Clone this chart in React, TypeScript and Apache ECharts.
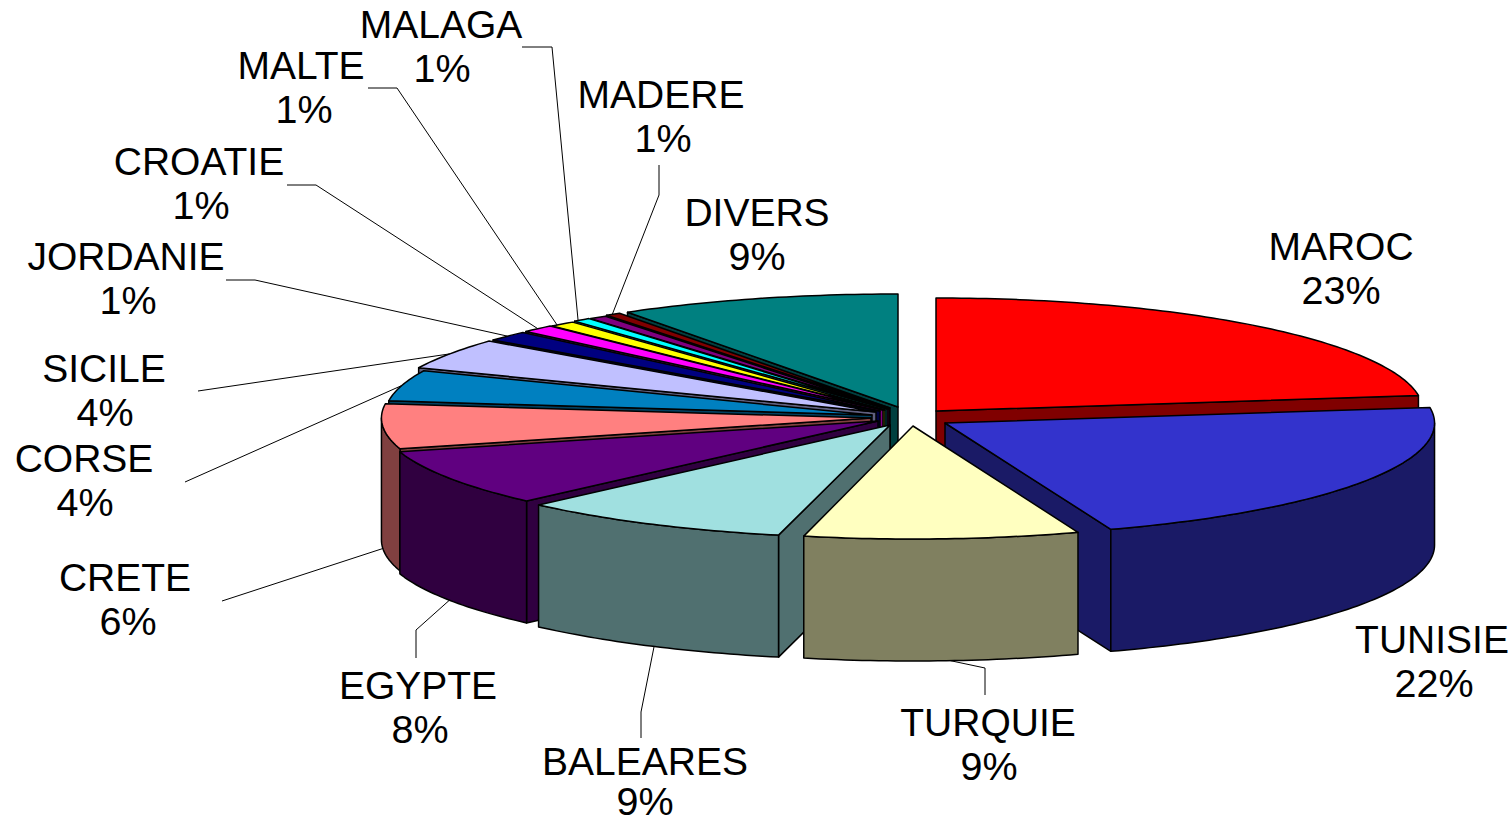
import React, { useEffect, useRef } from "react";
import * as echarts from "echarts";

// ---- data ----
const categories = ["MAROC", "TUNISIE", "TURQUIE", "BALEARES", "EGYPTE", "CRETE", "CORSE", "SICILE", "JORDANIE", "CROATIE", "MALTE", "MALAGA", "", "MADERE", "DIVERS"];
const shares = [22.8, 21.7, 9.1, 8.9, 8.1, 6.4, 4.4, 4.4, 1.44, 1.08, 0.86, 0.58, 0.58, 0.5, 9.16];

// ---- styles ----
const topColors = ["#FF0000", "#3333CC", "#FFFFC0", "#A0E0E0", "#600080", "#FF8080", "#0080C0", "#C0C0FF", "#000080", "#FF00FF", "#FFFF00", "#00FFFF", "#800080", "#800000", "#008080"];
const wallColors = ["#800000", "#1A1A66", "#808060", "#507070", "#300040", "#804040", "#004060", "#606080", "#000040", "#800080", "#808000", "#008080", "#400040", "#400000", "#004040"];
const explodeX = [38, 47, 15, -8, -20, -27, -26, -22, -18, -15, -13, -11, -9, -8, 0];
const explodeY = [4, 16, 19, 18, 14, 11, 8, 5, 4, 3, 3, 2, 2, 1, 0];
const radiusScale = [0.98, 0.985, 0.98, 1, 1, 0.985, 0.98, 1, 1, 1, 1, 1, 1, 1, 1];
const paintOrder = [14, 0, 13, 12, 11, 10, 9, 8, 7, 6, 5, 4, 3, 1, 2];

// ---- layout ----
const CX = 898, CY = 407, RX = 497, RY = 113, DEPTH = 122;
const NAME_FONT = "39px 'Liberation Sans', Arial, sans-serif";
const PCT_FONT = "39.5px 'Liberation Sans', Arial, sans-serif";
const labelX = [1341, 1432, 988, 645, 418, 125, 84, 104, 126, 199, 301, 441, 0, 661, 757];
const pctX = [1341, 1434, 989, 645, 420, 128, 85, 105, 128, 201, 304, 442, 0, 663, 757];
const labelY = [246, 639, 722, 761, 685, 577, 458, 368, 256, 161, 65, 24, 0, 94, 212];
const pctY = [290, 683, 766, 801, 729, 621, 502, 412, 300, 205, 109, 68, 0, 138, 256];
// leader lines: start and elbow of each, the far end is worked out from the slice
const leaderStart: (number[][] | null)[] = [
  null,
  null,
  [[985, 695], [985, 668]],
  [[641, 738], [641, 712]],
  [[416, 658], [416, 630]],
  [[222, 601]],
  [[185, 482]],
  [[198, 391]],
  [[226, 280], [255, 280]],
  [[287, 185], [316, 185]],
  [[368, 88], [397, 88]],
  [[522, 47], [552, 47]],
  null,
  [[659, 165], [659, 195]],
  null,
];
// where along its arc each leader meets the slice
const leaderAt = [0.5, 0.5, 0.47, 0.48, 0.5, 0.5, 0.5, 0.5, 0.5, 0.5, 0.25, 0.25, 0.5, 0.45, 0.5];

const total = shares.reduce((a, b) => a + b, 0);
const startAngles: number[] = [];
shares.reduce((acc, v, i) => {
  startAngles[i] = (acc / total) * 2 * Math.PI;
  return acc + v;
}, 0);
const endAngle = (i: number) => startAngles[i] + (shares[i] / total) * 2 * Math.PI;

const pt = (i: number, a: number, drop = 0): number[] => [
  CX + explodeX[i] + RX * radiusScale[i] * Math.sin(a),
  CY + explodeY[i] - RY * Math.cos(a) + drop,
];
const tip = (i: number, drop = 0): number[] => [CX + explodeX[i], CY + explodeY[i] + drop];

function arc(i: number, a0: number, a1: number, drop = 0): number[][] {
  const n = Math.max(2, Math.ceil((a1 - a0) / (Math.PI / 180)));
  const out: number[][] = [];
  for (let k = 0; k <= n; k++) out.push(pt(i, a0 + ((a1 - a0) * k) / n, drop));
  return out;
}

const outline = { stroke: "#000", lineWidth: 1.5, lineJoin: "round" };

function renderSlice(_: unknown, api: any) {
  const i = api.value(0) as number;
  const a0 = startAngles[i];
  const a1 = endAngle(i);
  const children: any[] = [];
  const wall = (points: number[][]) =>
    children.push({ type: "polygon", shape: { points }, style: { fill: wallColors[i], ...outline }, silent: true });

  const t = tip(i);
  const m = pt(i, (a0 + a1) / 2);
  // a radial wall shows only when the top face lies above its edge
  const radial = (p: number[]) => {
    const dx = p[0] - t[0];
    if (Math.abs(dx) < 1) return;
    const edgeY = t[1] + ((p[1] - t[1]) * (m[0] - t[0])) / dx;
    if (m[1] < edgeY) wall([t, p, [p[0], p[1] + DEPTH], [t[0], t[1] + DEPTH]]);
  };
  radial(pt(i, a0));
  radial(pt(i, a1));
  // outer wall: only the part that faces the viewer
  const f0 = Math.max(a0, Math.PI / 2);
  const f1 = Math.min(a1, (3 * Math.PI) / 2);
  if (f1 > f0) wall([...arc(i, f0, f1), ...arc(i, f0, f1, DEPTH).reverse()]);
  // top face
  children.push({
    type: "polygon",
    shape: { points: [t, ...arc(i, a0, a1)] },
    style: { fill: topColors[i], ...outline },
    silent: true,
  });
  return { type: "group", children };
}

function leaderEnd(i: number): number[] {
  const at = startAngles[i] + (endAngle(i) - startAngles[i]) * leaderAt[i];
  return pt(i, at, Math.cos(at) < 0 ? DEPTH : 0);
}

function buildGraphics() {
  const els: any[] = [];
  categories.forEach((name, i) => {
    if (!name) return;
    const pct = Math.round((shares[i] / total) * 100) + "%";
    [name, pct].forEach((text, k) =>
      els.push({
        type: "text",
        silent: true,
        z: 10,
        style: {
          text,
          x: k ? pctX[i] : labelX[i],
          y: k ? pctY[i] : labelY[i],
          textAlign: "center",
          textVerticalAlign: "middle",
          font: k ? PCT_FONT : NAME_FONT,
          fill: "#000",
        },
      })
    );
    const lead = leaderStart[i];
    if (lead) {
      els.push({
        type: "polyline",
        silent: true,
        z: 5,
        shape: { points: [...lead, leaderEnd(i)] },
        style: { stroke: "#000", lineWidth: 1, fill: "none" },
      });
    }
  });
  return els;
}

export default function App() {
  const ref = useRef<HTMLDivElement>(null);
  useEffect(() => {
    document.body.style.margin = "0";
    const chart = echarts.init(ref.current!, undefined, { renderer: "svg" });
    chart.setOption({
      animation: false,
      backgroundColor: "#fff",
      graphic: { elements: buildGraphics() },
      series: [
        {
          type: "custom",
          coordinateSystem: "none",
          silent: true,
          renderItem: renderSlice,
          data: paintOrder.map((i) => ({ name: categories[i], value: [i, shares[i]] })),
        },
      ],
    });
    return () => chart.dispose();
  }, []);
  return <div ref={ref} style={{ position: "absolute", left: 0, top: 0, width: 1512, height: 825 }} />;
}
